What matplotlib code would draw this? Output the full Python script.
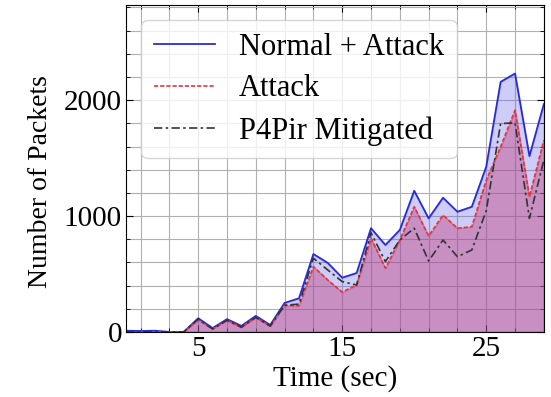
import matplotlib
matplotlib.use('Agg')
import matplotlib.pyplot as plt
import numpy as np

# serif look, ticks inside
plt.rcParams['font.family'] = ['Liberation Serif', 'DejaVu Serif']
plt.rcParams['mathtext.fontset'] = 'stix'
plt.rcParams['xtick.direction'] = 'in'
plt.rcParams['ytick.direction'] = 'in'
plt.rcParams['xtick.top'] = True
plt.rcParams['ytick.right'] = True

time = list(range(30))
normal_attack = [10, 8, 10, 0, 0, 118, 33, 110, 52, 138, 60, 250, 290, 672, 595, 468, 508, 895,
                 750, 880, 1218, 980, 1158, 1037, 1080, 1425, 2158, 2230, 1517, 1966]
attack = [0, 0, 0, 0, 0, 105, 25, 100, 40, 125, 50, 230, 225, 563, 448, 343, 405, 808,
          550, 793, 1080, 828, 1008, 895, 908, 1310, 1597, 1914, 1166, 1655]
mitigated = [0, 0, 0, 0, 0, 110, 25, 100, 40, 125, 50, 230, 240, 636, 534, 434, 405, 856,
             606, 793, 895, 612, 793, 649, 707, 1046, 1798, 1804, 980, 1483]

fig = plt.figure(figsize=(5.51, 3.97), dpi=100)
ax = fig.add_axes([0.229, 0.164, 0.758, 0.823])

ax.plot(time, normal_attack, color='#2b2bd6', lw=1.3, label='Normal + Attack')
ax.fill_between(time, normal_attack, color='#5a5ae6', alpha=0.3)
ax.plot(time, attack, color='#e8333a', lw=1.2, ls=(0, (2.5, 1.2)), label='Attack')
ax.fill_between(time, attack, color='#c03a7a', alpha=0.42)
ax.plot(time, mitigated, color='#333333', lw=1.2, ls=(0, (5, 2, 1.5, 2)), label='P4Pir Mitigated')

ax.set_xlim(0, 29)
ax.set_ylim(0, 2820)
ax.set_xticks([5, 15, 25])
ax.set_xticks(np.arange(1, 30, 2), minor=True)
ax.set_yticks([0, 1000, 2000])
ax.set_yticks(np.arange(0, 2801, 200), minor=True)
ax.tick_params(which='major', length=5, labelsize=21, pad=3)
ax.tick_params(which='minor', length=3)
ax.grid(which='both', color='#b0b0b0', lw=0.8)
ax.set_axisbelow(True)

ax.set_xlabel('Time (sec)', fontsize=21, labelpad=2)
ax.set_ylabel('Number of Packets', fontsize=20)
ax.yaxis.set_label_coords(-0.175, 0.46)

ax.legend(loc='upper left', fontsize=22, handlelength=2.0, framealpha=0.8,
          borderaxespad=0.5, handletextpad=0.8, labelspacing=0.42, borderpad=0.4)

plt.savefig('out.png', dpi=100)
